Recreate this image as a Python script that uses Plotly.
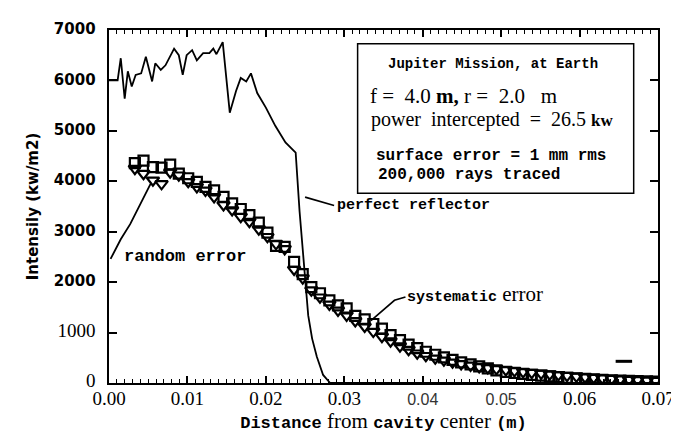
import plotly.graph_objects as go

# ---------------- data ----------------
perfect_x = [0.0, 0.0011, 0.0015, 0.0020, 0.0024, 0.0029, 0.0034, 0.0041, 0.0047, 0.0055,
             0.0059, 0.0066, 0.0072, 0.0083, 0.0089, 0.0094, 0.0099, 0.0106, 0.0112, 0.0120,
             0.0128, 0.0133, 0.0137, 0.0145, 0.0154, 0.0162, 0.0168, 0.0175, 0.0181, 0.0189,
             0.0200, 0.0212, 0.0225, 0.0238, 0.0243, 0.0248, 0.0252, 0.0254, 0.0259, 0.0265,
             0.0273, 0.0282, 0.0700]
perfect_y = [6000, 6000, 6440, 5640, 6180, 5880, 6110, 6140, 6470, 5980,
             6340, 6210, 6300, 6630, 6500, 6110, 6500, 6600, 6400, 6540,
             6540, 6630, 6520, 6760, 5360, 5790, 6050, 5980, 6140, 5750,
             5460, 5100, 4770, 4570, 3400, 2500, 1860, 1340, 880, 520,
             160, 0, 0]

marker_x = [0.0033, 0.0044, 0.0056, 0.0067, 0.0078, 0.0089, 0.0101, 0.0112, 0.0123, 0.0134,
            0.0146, 0.0157, 0.0168, 0.0179, 0.0191, 0.0202, 0.0213, 0.0224, 0.0236, 0.0247,
            0.0258, 0.0269, 0.0281, 0.0292, 0.0303, 0.0314, 0.0326, 0.0337, 0.0348, 0.0359,
            0.0371, 0.0382, 0.0393, 0.0404, 0.0416, 0.0427, 0.0438, 0.0449, 0.0461, 0.0472,
            0.0483, 0.0494, 0.0506, 0.0517, 0.0528, 0.0539, 0.0551, 0.0562, 0.0573, 0.0584,
            0.0596, 0.0607, 0.0618, 0.0629, 0.0641, 0.0652, 0.0663, 0.0674, 0.0686, 0.0697]
systematic_y = [4360, 4410, 4280, 4270, 4330, 4150, 4060, 3990, 3890, 3820,
                3690, 3560, 3450, 3330, 3180, 2980, 2720, 2700, 2400, 2160,
                1900, 1780, 1640, 1540, 1480, 1330, 1260, 1170, 1080, 950,
                850, 760, 690, 620, 560, 510, 460, 410, 370, 330,
                290, 250, 220, 200, 180, 160, 145, 130, 115, 100,
                90, 80, 70, 60, 55, 50, 45, 40, 35, 30]
random_y = [4250, 4150, 4020, 3950, 4180, 4120, 3990, 3890, 3820, 3690,
            3530, 3430, 3300, 3200, 3050, 2900, 2760, 2660, 2250, 2080,
            1840, 1700, 1560, 1440, 1340, 1230, 1120, 1020, 920, 830,
            730, 660, 590, 540, 490, 450, 410, 380, 350, 320,
            300, 280, 260, 240, 220, 205, 190, 175, 160, 145,
            130, 115, 105, 95, 85, 75, 65, 60, 50, 45]

random_lead_x = [0.0002, 0.0015, 0.0027, 0.0053]
random_lead_y = [2460, 2850, 3150, 3950]

y_tick_vals = [0, 1000, 2000, 3000, 4000, 5000, 6000, 7000]
y_tick_text = ["0", "1000", "2000", "3000", "4000", "5000", "6000", "7000"]
x_tick_vals = [0.00, 0.01, 0.02, 0.03, 0.04, 0.05, 0.06, 0.07]
x_tick_text = ["0.00", "0.01", "0.02", "0.03", "0.04", "0.05", "0.06", "0.07"]

SERIF = "Liberation Serif"
MONO = "Liberation Mono"
SANS = "DejaVu Sans"


def serif(t, size):
    return f'<span style="font-family:{SERIF};font-size:{size}px">{t}</span>'


def sansb(t, size):
    return f'<span style="font-family:{SANS};font-size:{size}px;font-weight:bold">{t}</span>'


def lsans(t, size):
    return f'<span style="font-family:Liberation Sans;font-size:{size}px;fill:#333">{t}</span>'


def monob(t, size):
    return f'<span style="font-family:{MONO};font-size:{size}px;font-weight:bold">{t}</span>'


y_ticks_rich = [serif(t, 19) if v < 2000 else sansb(t, 15) for v, t in zip(y_tick_vals, y_tick_text)]
x_ticks_rich = [lsans(t, 16) if v in (0.04, 0.05) else serif(t, 19) for v, t in zip(x_tick_vals, x_tick_text)]

fig = go.Figure()

fig.add_trace(go.Scatter(x=perfect_x, y=perfect_y, mode="lines",
                         line=dict(color="black", width=1.8), name="perfect reflector"))
fig.add_trace(go.Scatter(x=random_lead_x, y=random_lead_y, mode="lines",
                         line=dict(color="black", width=1.8), name="random error line"))
fig.add_trace(go.Scatter(x=marker_x, y=systematic_y, mode="markers", name="systematic error",
                         marker=dict(symbol="square-open", size=10, color="black",
                                     line=dict(width=2.2, color="black"))))
fig.add_trace(go.Scatter(x=marker_x, y=random_y, mode="markers", name="random error",
                         marker=dict(symbol="triangle-down-open", size=11, color="black",
                                     line=dict(width=2.2, color="black"))))

axis_common = dict(showline=True, linecolor="black", linewidth=2, mirror="allticks",
                   ticks="inside", tickcolor="black", showgrid=False, zeroline=False)

fig.update_xaxes(range=[0, 0.07], tickvals=x_tick_vals, ticktext=x_ticks_rich, ticklen=7,
                 tickwidth=1.5, ticklabelstandoff=6,
                 minor=dict(ticks="inside", dtick=0.001, ticklen=4, tickcolor="black", tickwidth=1),
                 title=dict(text=monob("Distance", 17) + serif(" from ", 21) + monob("cavity", 17)
                            + serif(" center ", 21) + monob("(m)", 17),
                            font=dict(color="black"), standoff=4),
                 **axis_common)
fig.update_yaxes(range=[0, 7000], tickvals=y_tick_vals, ticktext=y_ticks_rich, ticklen=8,
                 tickwidth=2, ticklabelstandoff=9,
                 title=dict(text="Intensily (kw/m2)", font=dict(family=SANS, size=15, color="black",
                                                               weight="bold"), standoff=12),
                 **axis_common)

# info box
fig.add_shape(type="rect", xref="x", yref="y", x0=0.0317, x1=0.0669, y0=3765, y1=6725,
              line=dict(color="black", width=1.5), fillcolor="white", layer="above")

ann = []
ann.append(dict(x=0.0489, y=6333, xanchor="center", text=monob("Jupiter Mission, at Earth", 14)))
ann.append(dict(x=0.0330, y=5686, xanchor="left",
                text=serif("f =  4.0 ", 21) + "<b>" + serif("m,", 21) + "</b>" + serif(" r =  2.0   m", 21)))
ann.append(dict(x=0.0331, y=5235, xanchor="left",
                text=serif("power  intercepted  =  26.5 ", 20) + "<b>" + serif("kw", 17) + "</b>"))
ann.append(dict(x=0.0338, y=4510, xanchor="left", text=monob("surface error = 1 mm rms", 16)))
ann.append(dict(x=0.0340, y=4118, xanchor="left", text=monob("200,000 rays traced", 16)))
# curve labels
ann.append(dict(x=0.0288, y=3520, xanchor="left", text=monob("perfect reflector", 15)))
ann.append(dict(x=0.0017, y=2510, xanchor="left", text=monob("random error", 17)))
ann.append(dict(x=0.0377, y=1765, xanchor="left", text=monob("systematic", 15) + serif(" error", 21)))

for a in ann:
    a.update(xref="x", yref="y", yanchor="middle", showarrow=False, font=dict(color="black"))
fig.update_layout(annotations=ann)

# leader lines
leaders = [
    ([0.0250, 0.0287], [3686, 3520]),
    ([0.0334, 0.0364, 0.0378], [1235, 1640, 1706]),
]
for lx, ly in leaders:
    fig.add_trace(go.Scatter(x=lx, y=ly, mode="lines", line=dict(color="black", width=1.6),
                             hoverinfo="skip"))
fig.add_shape(type="line", xref="x", yref="y", x0=0.0646, x1=0.0667, y0=430, y1=430,
              line=dict(color="black", width=3))

fig.update_layout(width=679, height=432, showlegend=False,
                  margin=dict(l=101, r=21, t=18, b=57),
                  paper_bgcolor="white", plot_bgcolor="white",
                  font=dict(family=SERIF, color="black"))

fig.write_html("out.html")
